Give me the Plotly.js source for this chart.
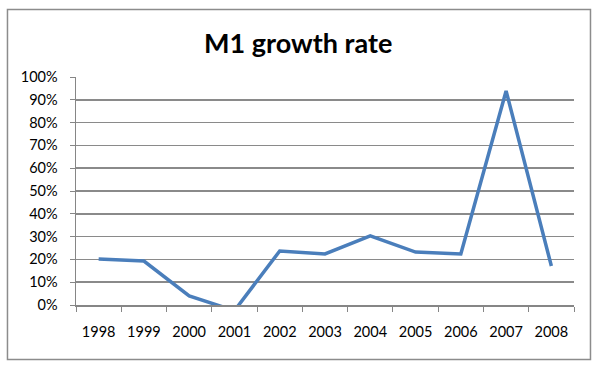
<!DOCTYPE html>
<html>
<head>
<meta charset="utf-8">
<script src="https://cdn.plot.ly/plotly-3.0.1.min.js"></script>
<style>html,body{margin:0;padding:0;background:#fff;}#chart{width:600px;height:375px;}</style>
</head>
<body>
<div id="chart"></div>
<script>
const years = ["1998","1999","2000","2001","2002","2003","2004","2005","2006","2007","2008"];
const growthRate = [0.202, 0.193, 0.040, -0.025, 0.237, 0.224, 0.303, 0.232, 0.224, 0.939, 0.171];
const yTickVals = [0,0.1,0.2,0.3,0.4,0.5,0.6,0.7,0.8,0.9,1.0];
const yTickText = ["0%","10%","20%","30%","40%","50%","60%","70%","80%","90%","100%"];

const font = "Lato, 'Open Sans', sans-serif";
const trace = {
  x: years, y: growthRate, type: "scatter", mode: "lines",
  line: {color: "#4a7ebb", width: 3.5},
  hoverinfo: "skip"
};
const layout = {
  width: 600, height: 375,
  margin: {l: 76, r: 26, t: 77, b: 70},
  paper_bgcolor: "#fff", plot_bgcolor: "#fff",
  showlegend: false,
  title: {text: "<b>M1 growth rate</b>", font: {family: font, size: 27, color: "#000"},
          x: 0.497, xref: "container", xanchor: "center", y: 0.885, yanchor: "middle"},
  xaxis: {type: "category", tickson: "boundaries", ticks: "outside", ticklen: 5,
          tickcolor: "#868686", showline: true, linecolor: "#868686", linewidth: 1.5,
          showgrid: false, zeroline: false, tickfont: {family: font, size: 14.5, color: "#000"},
          ticklabelstandoff: 13, range: [-0.5, 10.5]},
  yaxis: {range: [0, 1], tickvals: yTickVals, ticktext: yTickText, ticks: "outside",
          ticklen: 5, tickcolor: "#868686", showline: true, linecolor: "#868686", linewidth: 1.5,
          showgrid: true, gridcolor: "#8a8a8a", gridwidth: 1.5, zeroline: false,
          ticklabelstandoff: 9,
          tickfont: {family: font, size: 14.5, color: "#000"}, fixedrange: true},
  shapes: [{type: "rect", xref: "paper", yref: "paper",
            x0: -0.1376, x1: 1.0331, y0: -0.239, y1: 1.296,
            line: {color: "#8c8c8c", width: 1.5}, fillcolor: "rgba(0,0,0,0)"}]
};
Plotly.newPlot("chart", [trace], layout, {staticPlot: true, displayModeBar: false});
</script>
</body>
</html>
